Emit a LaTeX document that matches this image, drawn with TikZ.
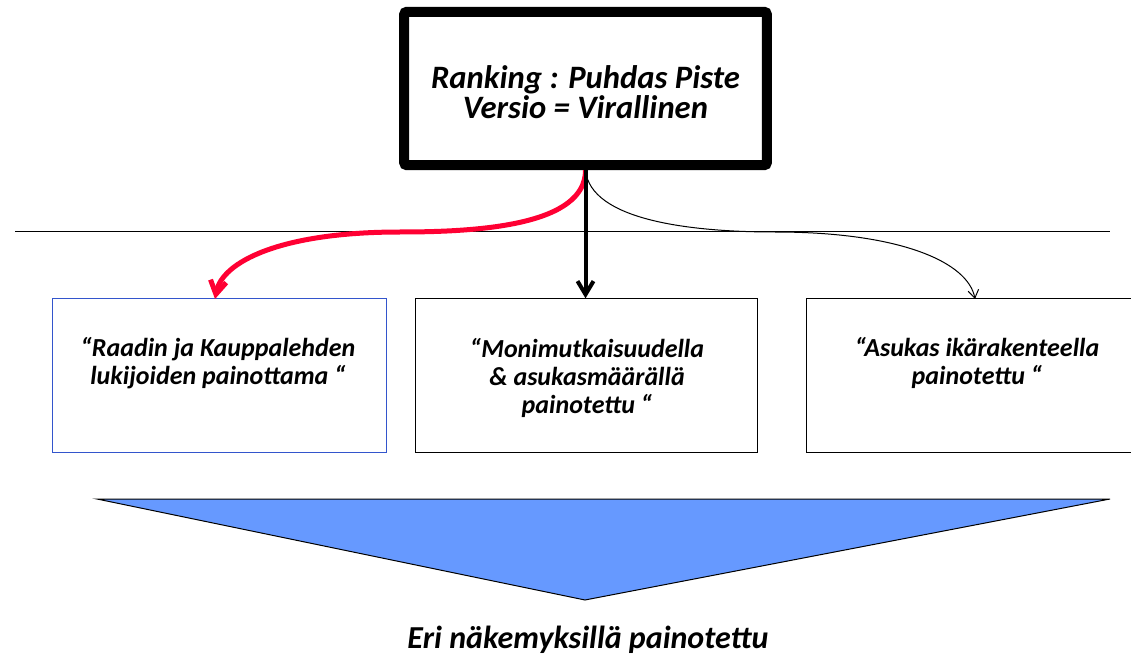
\documentclass[tikz,border=0pt]{standalone}
\usepackage{fontspec}
\setmainfont{Carlito}
\usetikzlibrary{arrows.meta,positioning}
\definecolor{redline}{HTML}{FF0033}
\definecolor{boxblue}{HTML}{3355CC}
\definecolor{wedge}{HTML}{6699FF}

\begin{document}
\begin{tikzpicture}[x=0.75pt,y=-0.75pt,
    box/.style={draw,line width=0.75pt,minimum height=115pt,inner sep=0pt},
    txt/.style={align=center,font=\fontsize{19.5}{21}\selectfont\bfseries\itshape}]
  \clip (0,0) rectangle (1131,659);
  % top box
  \node[draw,line width=7.5pt,rounded corners=2pt,minimum width=272pt,minimum height=115pt] (top) at (585.5,88.5) {};
  \node[align=center,font=\fontsize{24.5}{22.5}\selectfont\bfseries\itshape] (t0) at (585.5,92)
        {Ranking : Puhdas Piste\\Versio = Virallinen};
  \draw[line width=0.75pt] (15,232) -- (1110,232);
  % three weightings
  \node[box,draw=boxblue,minimum width=250pt] (b1) at (219.5,375.5) {};
  \node[box,minimum width=257pt] (b2) at (586.5,375.5) {};
  \node[box,minimum width=265pt] (b3) at (983,375.5) {};
  \node[txt] (t1) at (218,363) {“Raadin ja Kauppalehden\\lukijoiden painottama “};
  \node[txt] (t2) at (587,378) {“Monimutkaisuudella\\\& asukasmäärällä\\painotettu “};
  \node[txt] (t3) at (977,363) {“Asukas ikärakenteella\\painotettu “};
  \coordinate (m1) at (400,232);
  \coordinate (m3) at (775,232);
  \coordinate (e1) at (215,299);
  \coordinate (e3) at (975,299);
  \draw[redline,line width=3.75pt,-{Straight Barb[length=10pt,width=12pt]}]
    (top.south) .. controls +(0,55) and (480,232) .. (m1)
    .. controls (280,232) and (222,262) .. (e1);
  \draw[line width=3pt,-{Straight Barb[length=10pt,width=12pt]}] (top.south) -- (top.south |- b2.north);
  \draw[line width=0.75pt,-{Straight Barb[length=6pt,width=8pt]}]
    (top.south) .. controls +(5,50) and (690,232) .. (m3)
    .. controls (900,232) and (968,262) .. (e3);
  % result
  \draw[fill=wedge,line width=0.75pt] (97,499) -- (1110,499) -- (585,600) -- cycle;
  \node[font=\fontsize{24}{24}\selectfont\bfseries\itshape] (res) at (588,640) {Eri näkemyksillä painotettu};
\end{tikzpicture}
\end{document}
